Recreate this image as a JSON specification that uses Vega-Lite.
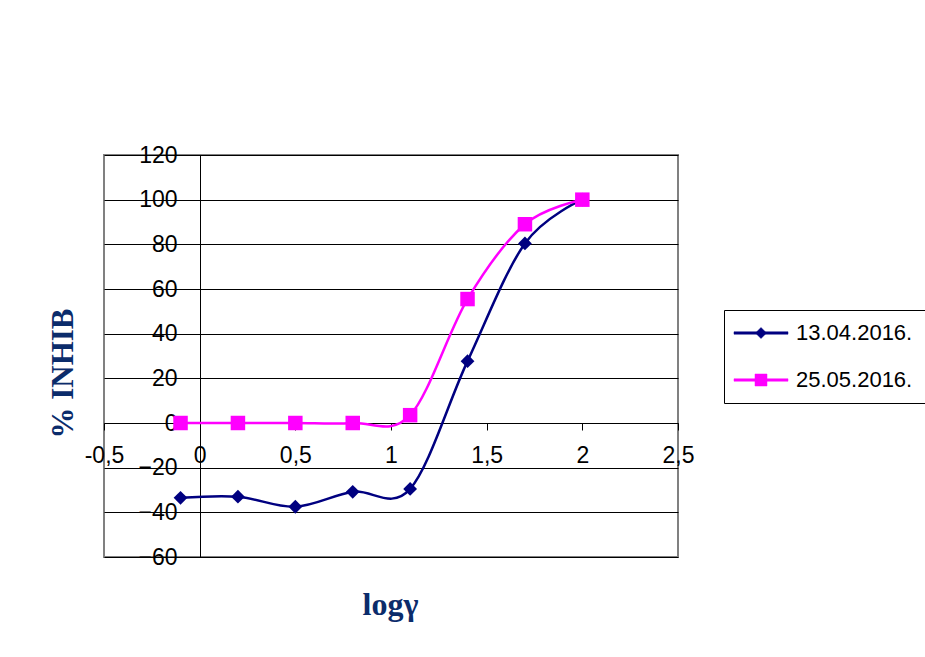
{
  "$schema": "https://vega.github.io/schema/vega-lite/v6.json",
  "autosize": "none",
  "width": 574,
  "height": 402,
  "padding": {"left": 104, "top": 155, "right": 247, "bottom": 100},
  "background": "white",
  "config": {
    "view": {"stroke": "#808080", "strokeWidth": 2},
    "font": "Liberation Sans"
  },
  "data": {
    "values": [
      {"series": "13.04.2016.", "logy": -0.1, "inhib": -33.5},
      {"series": "13.04.2016.", "logy": 0.2, "inhib": -33},
      {"series": "13.04.2016.", "logy": 0.5, "inhib": -37.5},
      {"series": "13.04.2016.", "logy": 0.8, "inhib": -30.8},
      {"series": "13.04.2016.", "logy": 1.1, "inhib": -29.5},
      {"series": "13.04.2016.", "logy": 1.4, "inhib": 27.7},
      {"series": "13.04.2016.", "logy": 1.7, "inhib": 80.4},
      {"series": "13.04.2016.", "logy": 2.0, "inhib": 100},
      {"series": "25.05.2016.", "logy": -0.1, "inhib": 0},
      {"series": "25.05.2016.", "logy": 0.2, "inhib": 0},
      {"series": "25.05.2016.", "logy": 0.5, "inhib": 0},
      {"series": "25.05.2016.", "logy": 0.8, "inhib": 0},
      {"series": "25.05.2016.", "logy": 1.1, "inhib": 3.5},
      {"series": "25.05.2016.", "logy": 1.4, "inhib": 55.5},
      {"series": "25.05.2016.", "logy": 1.7, "inhib": 89},
      {"series": "25.05.2016.", "logy": 2.0, "inhib": 100}
    ]
  },
  "encoding": {
    "x": {
      "field": "logy",
      "type": "quantitative",
      "scale": {"domain": [-0.5, 2.5], "nice": false, "zero": false},
      "axis": {
        "values": [-0.5, 0, 0.5, 1, 1.5, 2, 2.5],
        "labelExpr": "replace(replace(format(datum.value, '.1~f'), '.', ','), '\u2212', '-')",
        "grid": false,
        "domainColor": "black",
        "domainWidth": 1,
        "tickColor": "black",
        "tickSize": 7,
        "labelFont": "Liberation Sans",
        "labelFontSize": 23,
        "labelColor": "black",
        "labelPadding": 14,
        "labelFlush": false,
        "labelOverlap": false,
        "labelBound": false,
        "offset": -134,
        "title": "logγ",
        "titleFont": "Liberation Serif",
        "titleFontSize": 32,
        "titleFontWeight": "bold",
        "titleColor": "#0B2C6B",
        "titleX": 286,
        "titleY": 191,
        "titleAlign": "center",
        "titleBaseline": "alphabetic"
      }
    },
    "y": {
      "field": "inhib",
      "type": "quantitative",
      "scale": {"domain": [-60, 120], "nice": false, "zero": false},
      "axis": {
        "values": [-60, -40, -20, 0, 20, 40, 60, 80, 100, 120],
        "grid": true,
        "gridColor": "black",
        "gridWidth": 1,
        "domainColor": "black",
        "domainWidth": 1,
        "tickColor": "black",
        "tickSize": 7,
        "labelFont": "Liberation Sans",
        "labelFontSize": 23,
        "labelColor": "black",
        "labelPadding": 16,
        "labelFlush": false,
        "labelOverlap": false,
        "labelBound": false,
        "offset": -96,
        "title": "% INHIB",
        "titleFont": "Liberation Serif",
        "titleFontSize": 31,
        "titleFontWeight": "bold",
        "titleColor": "#0B2C6B",
        "titleX": -137,
        "titleY": 218,
        "titleAngle": -90,
        "titleAlign": "center",
        "titleBaseline": "middle"
      }
    },
    "color": {
      "field": "series",
      "type": "nominal",
      "scale": {"domain": ["13.04.2016.", "25.05.2016."], "range": ["#000080", "#FF00FF"]},
      "legend": {
        "orient": "none",
        "legendX": 620,
        "legendY": 155,
        "title": null,
        "strokeColor": "black",
        "fillColor": "white",
        "padding": 12,
        "rowPadding": 25,
        "labelFont": "Liberation Sans",
        "labelFontSize": 22,
        "labelColor": "black",
        "symbolSize": 400,
        "symbolOffset": 14,
        "labelOffset": 24,
        "symbolOpacity": 1,
        "symbolType": "M-2.7,-0.12H2.7V0.12H-2.7Z M0,-0.55L0.55,0L0,0.55L-0.55,0Z",
        "encoding": {
          "symbols": {
            "shape": {"value": {"expr": "datum.value === '13.04.2016.' ? 'M-2.7,-0.12H2.7V0.12H-2.7Z M0,-0.55L0.55,0L0,0.55L-0.55,0Z' : 'M-2.7,-0.12H2.7V0.12H-2.7Z M-0.6,-0.6H0.6V0.6H-0.6Z'"}},
            "fill": {"value": {"expr": "scale('color', datum.value)"}},
            "stroke": {"value": {"expr": "scale('color', datum.value)"}},
            "strokeWidth": {"value": 0.5}
          }
        }
      }
    }
  },
  "layer": [
    {
      "mark": {"type": "line", "interpolate": "cardinal", "tension": 0, "strokeWidth": 2.5}
    },
    {
      "transform": [{"filter": "datum.series === '13.04.2016.'"}],
      "mark": {"type": "point", "filled": true, "shape": "diamond", "size": 190, "opacity": 1}
    },
    {
      "transform": [{"filter": "datum.series === '25.05.2016.'"}],
      "mark": {"type": "point", "filled": true, "shape": "square", "size": 210, "opacity": 1}
    }
  ]
}
